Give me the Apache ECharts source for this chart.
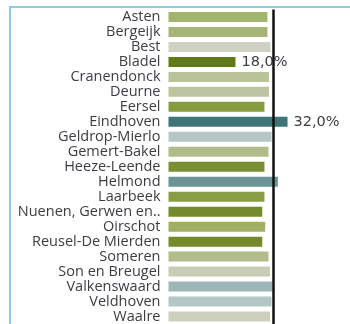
<!DOCTYPE html>
<html>
<head>
<meta charset="utf-8">
<script src="https://cdn.jsdelivr.net/npm/echarts@6/dist/echarts.min.js"></script>
<style>
  html, body { margin: 0; padding: 0; background: #ffffff; }
  #frame {
    position: absolute; left: 9px; top: 6px; right: 0; bottom: 0;
    border-left: 2px solid #8ccfdc; border-top: 2px solid #8ccfdc;
  }
  #chart { position: absolute; left: 0; top: 0; width: 350px; height: 324px; }
</style>
</head>
<body>
<div id="frame"></div>
<div id="chart"></div>
<script>
// Municipalities, top to bottom
const gemeenten = [
  'Asten', 'Bergeijk', 'Best', 'Bladel', 'Cranendonck', 'Deurne', 'Eersel',
  'Eindhoven', 'Geldrop-Mierlo', 'Gemert-Bakel', 'Heeze-Leende', 'Helmond',
  'Laarbeek', 'Nuenen, Gerwen en..', 'Oirschot', 'Reusel-De Mierden',
  'Someren', 'Son en Breugel', 'Valkenswaard', 'Veldhoven', 'Waalre'
];
// Percentage per municipality
const percentages = [
  26.6, 26.6, 27.4, 18.0, 27.0, 27.0, 25.8,
  32.0, 27.7, 26.9, 25.8, 29.4,
  25.8, 25.2, 26.0, 25.2,
  26.9, 27.3, 28.0, 27.7, 27.3
];
// Bar colour per municipality
const kleuren = [
  '#a3b46e', '#a6b577', '#d0d1c5', '#617a18', '#b9c39a', '#bcc59f', '#879c3f',
  '#3f7478', '#b6c6c6', '#b0bd8a', '#7a8f32', '#6a9597',
  '#899e44', '#748a2b', '#9fb062', '#748a2b',
  '#b1bd8b', '#c9ccb6', '#9fb6b8', '#b5c6c6', '#cdd0bd'
];
// Municipalities whose value is printed next to the bar
const gelabeld = ['Bladel', 'Eindhoven'];
// Reference level drawn as a vertical line
const referentie = 28.2;

const chart = echarts.init(document.getElementById('chart'), null, { renderer: 'canvas' });

const fmt = v => v.toFixed(1).replace('.', ',') + '%';

chart.setOption({
  animation: false,
  grid: { left: 168.5, top: 9.5, width: 148.8, height: 315, containLabel: false },
  xAxis: {
    type: 'value', min: 0, max: 40,
    show: false
  },
  yAxis: {
    type: 'category',
    data: gemeenten,
    inverse: true,
    axisLine: { show: false },
    axisTick: { show: false },
    axisLabel: {
      interval: 0,
      margin: 8,
      color: '#3c3c44',
      fontFamily: 'Open Sans',
      fontSize: 14.5,
      lineHeight: 15
    }
  },
  series: [{
    type: 'bar',
    barWidth: 10,
    data: percentages.map((v, i) => ({
      value: v,
      itemStyle: { color: kleuren[i] },
      label: {
        show: gelabeld.includes(gemeenten[i]),
        position: 'right',
        distance: 6,
        formatter: p => fmt(p.value),
        color: '#3c3c44',
        fontFamily: 'DejaVu Sans',
        fontSize: 14.5
      }
    })),
    markLine: {
      silent: true,
      symbol: 'none',
      label: { show: false },
      lineStyle: { color: '#111111', width: 2.5, type: 'solid' },
      data: [{ xAxis: referentie }]
    }
  }]
});
</script>
</body>
</html>
